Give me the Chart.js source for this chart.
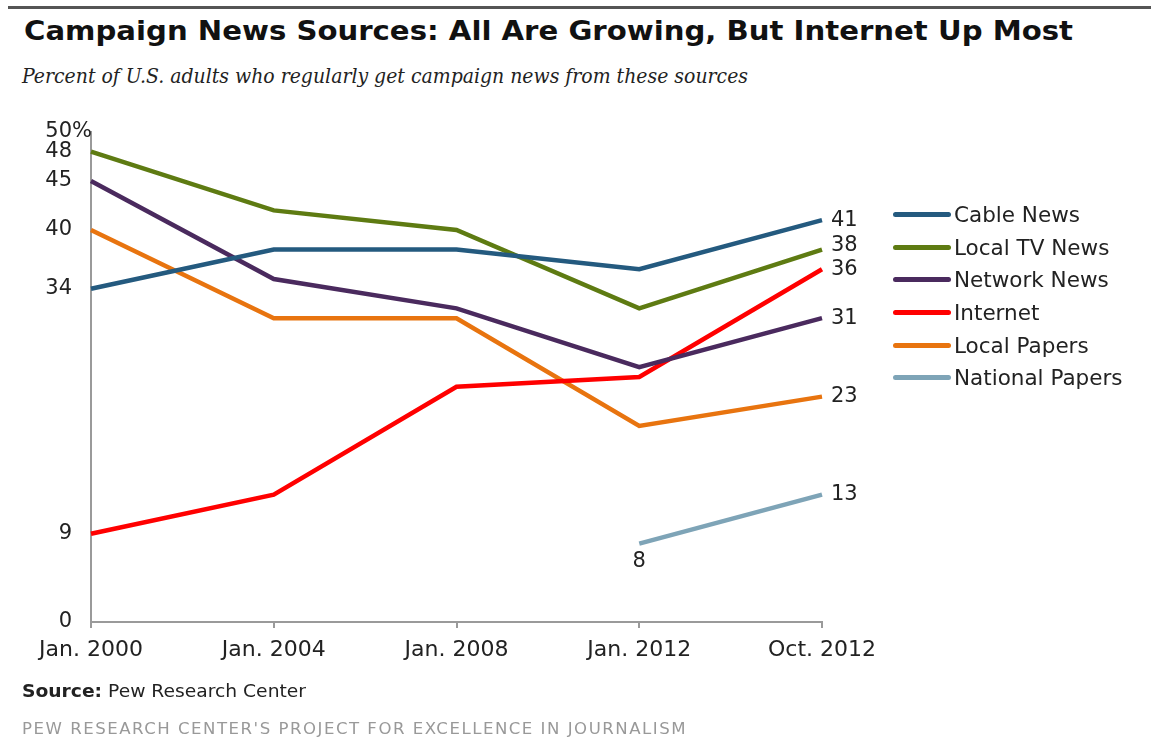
<!DOCTYPE html>
<html lang="en">

<head>
    <meta charset="UTF-8">
    <title>Campaign News Sources</title>
    <script src="https://cdn.jsdelivr.net/npm/chart.js"></script>
    <style>
        body {
            margin: 0;
            background: #fff;
        }

        #page {
            position: relative;
            width: 1151px;
            height: 747px;
            overflow: hidden;
            font-family: 'DejaVu Sans', Verdana, sans-serif;
            color: #111;
        }

        #page canvas {
            position: absolute;
            left: 0;
            top: 0;
        }

        .fit {
            position: absolute;
            white-space: nowrap;
            transform-origin: 0 50%;
        }

        #rule {
            position: absolute;
            left: 8px;
            top: 6px;
            width: 1143px;
            height: 3px;
            background: #555;
        }

        #title {
            left: 24px;
            top: 16px;
            font-size: 26px;
            line-height: 30px;
            font-weight: bold;
        }

        #subtitle {
            left: 22px;
            top: 64px;
            font-family: 'DejaVu Serif', Georgia, serif;
            font-style: italic;
            font-size: 20px;
            line-height: 24px;
            color: #222;
        }

        #source {
            left: 22px;
            top: 680px;
            font-size: 18px;
            line-height: 22px;
            color: #222;
        }

        #footer {
            left: 22px;
            top: 719px;
            font-size: 16.5px;
            line-height: 20px;
            letter-spacing: 1.5px;
            color: #999;
        }

        #legend {
            position: absolute;
            left: 893px;
            top: 198px;
        }

        .legend-row {
            display: flex;
            align-items: center;
            height: 32.7px;
            font-size: 21.5px;
            color: #222;
            white-space: nowrap;
        }

        .legend-row span.swatch {
            width: 58px;
            height: 5px;
            border-radius: 3px;
            margin-right: 3px;
        }
    </style>
</head>

<body>
    <div id="page">
        <div id="rule"></div>
        <div id="title" class="fit" data-w="1049">Campaign News Sources: All Are Growing, But Internet Up Most</div>
        <div id="subtitle" class="fit" data-w="726">Percent of U.S. adults who regularly get campaign news from these sources</div>
        <canvas id="newsChart" width="1151" height="747"></canvas>
        <div id="legend"></div>
        <div id="source" class="fit" data-w="284"><b>Source:</b> Pew Research Center</div>
        <div id="footer" class="fit" data-w="665">PEW RESEARCH CENTER'S PROJECT FOR EXCELLENCE IN JOURNALISM</div>
    </div>

    <script>
        // data
        var categories = ['Jan. 2000', 'Jan. 2004', 'Jan. 2008', 'Jan. 2012', 'Oct. 2012'];
        var cableNews = [34, 38, 38, 36, 41];
        var localTvNews = [48, 42, 40, 32, 38];
        var networkNews = [45, 35, 32, 26, 31];
        var internet = [9, 13, 24, 25, 36];
        var localPapers = [40, 31, 31, 20, 23];
        var nationalPapers = [null, null, null, 8, 13];
        var yTicks = [0, 9, 34, 40, 45, 48, 50];

        var seriesNames = ['Cable News', 'Local TV News', 'Network News', 'Internet', 'Local Papers', 'National Papers'];
        var seriesData = [cableNews, localTvNews, networkNews, internet, localPapers, nationalPapers];
        var seriesColors = ['#245a7f', '#5e7b12', '#4a2a5e', '#ff0000', '#e8740f', '#7ea4b7'];

        var fontFamily = "'DejaVu Sans', Verdana, sans-serif";

        // squeeze / stretch the html text lines to the widths in the picture
        document.querySelectorAll('.fit').forEach(function (el) {
            var w = el.getBoundingClientRect().width;
            el.style.transform = 'scaleX(' + (el.dataset.w / w) + ')';
        });

        // legend
        var legend = document.getElementById('legend');
        seriesNames.forEach(function (name, i) {
            var row = document.createElement('div');
            row.className = 'legend-row';
            row.innerHTML = '<span class="swatch" style="background:' + seriesColors[i] + '"></span>' + name;
            legend.appendChild(row);
        });

        // value labels at the line ends, the "8" under National Papers,
        // and the % sign hanging off the top tick
        var endLabels = {
            id: 'endLabels',
            afterDraw: function (chart) {
                var ctx = chart.ctx;
                ctx.save();
                ctx.font = '21px ' + fontFamily;
                ctx.fillStyle = '#222';
                ctx.textBaseline = 'middle';
                chart.data.datasets.forEach(function (ds, i) {
                    var meta = chart.getDatasetMeta(i);
                    var last = ds.data.length - 1;
                    var pt = meta.data[last];
                    var dy = i === 1 ? -4 : 0;
                    ctx.textAlign = 'left';
                    ctx.fillText(ds.data[last], pt.x + 9, pt.y + dy);
                    if (ds.data[0] === null) {
                        var first = ds.data.findIndex(function (v) { return v !== null; });
                        var p0 = meta.data[first];
                        ctx.textAlign = 'center';
                        ctx.fillText(ds.data[first], p0.x, p0.y + 18);
                    }
                });
                var y = chart.scales.y;
                ctx.textAlign = 'left';
                ctx.fillText('%', chart.chartArea.left - 19, y.getPixelForValue(yTicks[yTicks.length - 1]));
                ctx.restore();
            }
        };

        var ctx = document.getElementById('newsChart').getContext('2d');
        var newsChart = new Chart(ctx, {
            type: 'line',
            data: {
                labels: categories,
                datasets: seriesNames.map(function (name, i) {
                    return {
                        label: name,
                        data: seriesData[i],
                        borderColor: seriesColors[i],
                        backgroundColor: seriesColors[i],
                        borderWidth: 4.5,
                        pointRadius: 0,
                        tension: 0,
                        fill: false
                    };
                })
            },
            options: {
                responsive: false,
                animation: false,
                devicePixelRatio: 1,
                layout: {
                    padding: { left: 0, top: 132, right: 329, bottom: 75 }
                },
                plugins: {
                    legend: { display: false },
                    tooltip: { enabled: false }
                },
                scales: {
                    x: {
                        type: 'category',
                        offset: false,
                        grid: {
                            display: true,
                            drawOnChartArea: false,
                            drawTicks: true,
                            tickLength: 6,
                            color: '#9a9a9a',
                            lineWidth: 2
                        },
                        border: { display: true, color: '#9a9a9a', width: 2 },
                        ticks: {
                            color: '#222',
                            padding: 9,
                            maxRotation: 0,
                            autoSkip: false,
                            font: { family: fontFamily, size: 22 }
                        },
                        afterFit: function (scale) { scale.height = 50; }
                    },
                    y: {
                        min: 0,
                        max: 50,
                        grid: { display: false },
                        border: { display: true, color: '#9a9a9a', width: 2 },
                        afterBuildTicks: function (scale) {
                            scale.ticks = yTicks.map(function (v) { return { value: v }; });
                        },
                        ticks: {
                            color: '#222',
                            padding: 11,
                            font: { family: fontFamily, size: 21 }
                        },
                        afterFit: function (scale) { scale.width = 91; }
                    }
                }
            },
            plugins: [endLabels]
        });
    </script>
</body>

</html>
